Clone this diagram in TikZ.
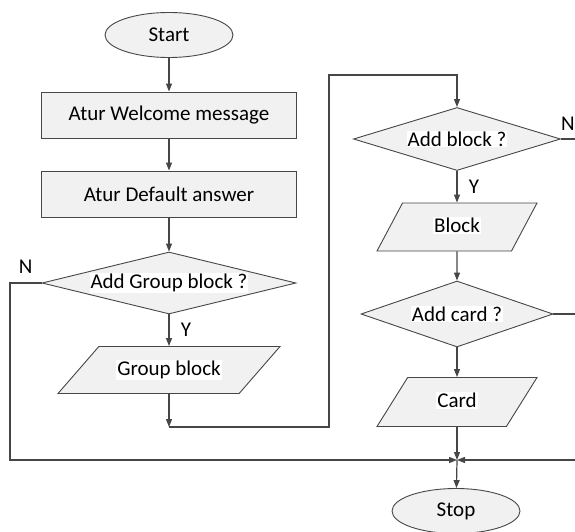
\documentclass[tikz,border=0pt]{standalone}
\usepackage{fontspec}
\setmainfont{Carlito}
\usetikzlibrary{shapes.geometric}
\usetikzlibrary{arrows.meta}
\definecolor{linie}{RGB}{70,70,70}
\definecolor{kasten}{RGB}{241,241,241}
\newcommand{\wb}[1]{\colorbox{white}{#1}}
\setlength{\fboxsep}{1pt}

\begin{document}
\begin{tikzpicture}[x=1pt, y=-1pt, linie, text=black, font=\fontsize{21}{25}\selectfont,
	flow/.style={draw=linie, fill=kasten, line width=0.9pt, inner sep=0pt},
	terminal/.style={flow, ellipse, minimum width=128pt, minimum height=45pt},
	prozess/.style={flow, rectangle, minimum width=255pt, minimum height=46pt},
	frage/.style={flow, diamond},
	daten/.style={flow, trapezium, trapezium stretches body, text height=16pt, text depth=5pt, inner xsep=2pt},
	pfeil/.style={line width=1.2pt, -{Triangle[length=8pt,width=6pt]}},
	strich/.style={line width=1.2pt}]

	\useasboundingbox (0,0) rectangle (575,532);

	% linke Spalte
	\node[terminal] (start) at (169,35) {Start};
	\node[prozess] (welcome) at (169,115) {Atur Welcome message};
	\node[prozess] (default) at (169,194) {Atur Default answer};
	\node[frage, aspect=4.1, minimum width=254pt, minimum height=62pt] (askgroup) at (169,283) {\wb{Add Group block ?}};
	\node[daten, trapezium left angle=49, trapezium right angle=131, inner ysep=13pt, minimum width=222pt] (groupblock) at (169,370) {\wb{Group block}};

	% rechte Spalte
	\node[frage, aspect=3.3, minimum width=207pt, minimum height=63pt] (askblock) at (457,139) {\wb{Add block ?}};
	\node[daten, trapezium left angle=62, trapezium right angle=118, inner ysep=13.5pt, minimum width=160pt] (block) at (457,227) {\wb{Block}};
	\node[frage, aspect=2.9, minimum width=192pt, minimum height=66pt] (askcard) at (457,314) {\wb{Add card ?}};
	\node[daten, trapezium left angle=58, trapezium right angle=122, inner ysep=14pt, minimum width=160pt] (card) at (457,402) {\wb{Card}};
	\node[terminal] (stop) at (456,511) {Stop};

	% Hilfspunkte
	\coordinate (j1) at (169,427);
	\coordinate (bend) at (329,75);
	\coordinate (nleft) at (10,460);
	\coordinate (join) at (457,460);
	\coordinate (rblock) at (575,139);
	\coordinate (rcard) at (575,314);
	\coordinate (rjoin) at (575,460);

	\draw[pfeil] (start) -- (welcome);
	\draw[pfeil] (welcome) -- (default);
	\draw[pfeil] (default) -- (askgroup);
	\draw[pfeil] (askgroup) -- node[right=8pt]{Y} (groupblock);
	\draw[pfeil] (groupblock) -- (j1);
	\draw[pfeil] (j1) -| (bend) -| (askblock);
	\draw[pfeil] (askgroup.west) -| node[pos=0.25, above=6pt]{N} (nleft) -- (join);

	\draw[pfeil] (askblock) -- node[right=8pt]{Y} (block);
	\draw[strich] (askblock.east) -- node[above=5pt]{N} (rblock);
	\draw[pfeil] (block) -- (askcard);
	\draw[pfeil] (askcard) -- (card);
	\draw[strich] (askcard.east) -- (rcard);
	\draw[pfeil] (card) -- (join);
	\draw[pfeil] (rjoin) -- (join);
	\draw[pfeil] (join) -- (stop);

\end{tikzpicture}
\end{document}
